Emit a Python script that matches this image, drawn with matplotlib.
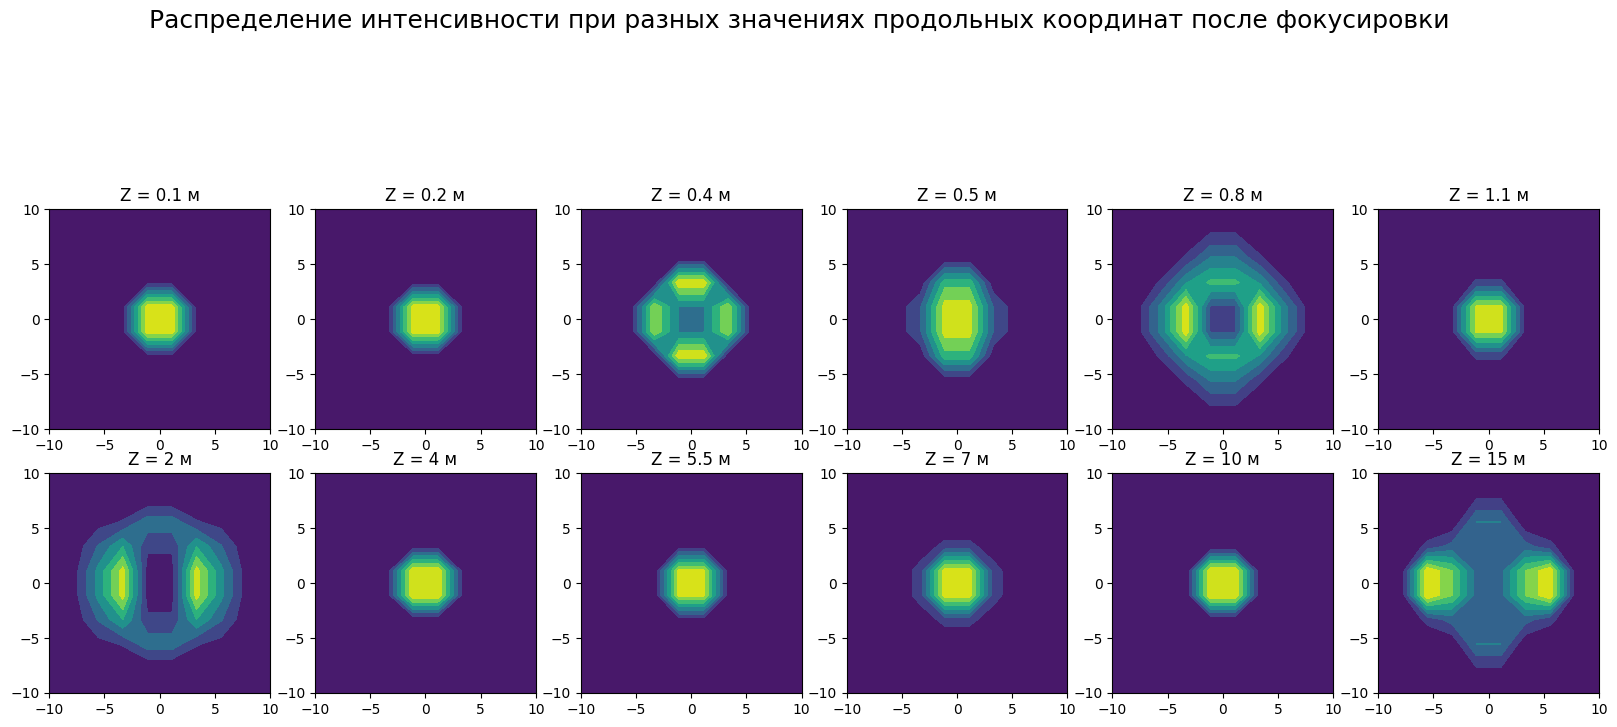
import numpy as np
import matplotlib
matplotlib.use('Agg')
import matplotlib.pyplot as plt

# rows go from y=-10 up to y=10, values are in units of one contour band
z_labels = ['0.1', '0.2', '0.4', '0.5', '0.8', '1.1', '2', '4', '5.5', '7', '10', '15']
n_bands = [8, 8, 7, 7, 8, 7, 7, 7, 8, 8, 7, 8]

i_01 = [[0] * 10, [0] * 10, [0] * 10,
        [0, 0, 0, 0, 0.6, 0.6, 0, 0, 0, 0],
        [0, 0, 0, 0.6, 7.6, 7.6, 0.6, 0, 0, 0],
        [0, 0, 0, 0.6, 7.6, 7.6, 0.6, 0, 0, 0],
        [0, 0, 0, 0, 0.6, 0.6, 0, 0, 0, 0],
        [0] * 10, [0] * 10, [0] * 10]
i_02 = [[0] * 10, [0] * 10, [0] * 10,
        [0, 0, 0, 0, 0.45, 0.45, 0, 0, 0, 0],
        [0, 0, 0, 0.75, 7.6, 7.6, 0.75, 0, 0, 0],
        [0, 0, 0, 0.75, 7.6, 7.6, 0.75, 0, 0, 0],
        [0, 0, 0, 0, 0.55, 0.55, 0, 0, 0, 0],
        [0] * 10, [0] * 10, [0] * 10]
i_04 = [[0] * 10, [0] * 10,
        [0, 0, 0, 0, 0.16, 0.16, 0, 0, 0, 0],
        [0, 0, 0, 0.25, 6.85, 6.85, 0.25, 0, 0, 0],
        [0, 0, 0.15, 5.9, 2.9, 2.9, 5.9, 0.15, 0, 0],
        [0, 0, 0.15, 5.9, 2.9, 2.9, 5.9, 0.15, 0, 0],
        [0, 0, 0, 0.25, 6.85, 6.85, 0.25, 0, 0, 0],
        [0, 0, 0, 0, 0.16, 0.16, 0, 0, 0, 0],
        [0] * 10, [0] * 10]
i_05 = [[0] * 10, [0] * 10,
        [0, 0, 0, 0, 0.3, 0.3, 0, 0, 0, 0],
        [0, 0, 0, 0.25, 4.6, 4.6, 0.25, 0, 0, 0],
        [0, 0, 0.3, 1.9, 6.5, 6.5, 1.9, 0.3, 0, 0],
        [0, 0, 0.3, 1.9, 6.5, 6.5, 1.9, 0.3, 0, 0],
        [0, 0, 0, 0.25, 4.6, 4.6, 0.25, 0, 0, 0],
        [0, 0, 0, 0, 0.3, 0.3, 0, 0, 0, 0],
        [0] * 10, [0] * 10]
i_08 = [[0] * 10,
        [0, 0, 0, 0, 1.05, 1.05, 0, 0, 0, 0],
        [0, 0, 0, 1.2, 3.1, 3.1, 1.2, 0, 0, 0],
        [0, 0, 1.2, 3.9, 5.25, 5.25, 3.9, 1.2, 0, 0],
        [0, 0.53, 3.4, 7.6, 1.85, 1.85, 7.6, 3.4, 0.53, 0],
        [0, 0.53, 3.4, 7.6, 1.85, 1.85, 7.6, 3.4, 0.53, 0],
        [0, 0, 1.2, 3.9, 5.25, 5.25, 3.9, 1.2, 0, 0],
        [0, 0, 0, 1.2, 3.1, 3.1, 1.2, 0, 0, 0],
        [0, 0, 0, 0, 1.05, 1.05, 0, 0, 0, 0],
        [0] * 10]
i_11 = [[0] * 10, [0] * 10, [0] * 10,
        [0, 0, 0, 0, 1.15, 1.15, 0, 0, 0, 0],
        [0, 0, 0, 0.67, 6.3, 6.3, 0.67, 0, 0, 0],
        [0, 0, 0, 0.67, 6.3, 6.3, 0.67, 0, 0, 0],
        [0, 0, 0, 0, 1.15, 1.15, 0, 0, 0, 0],
        [0] * 10, [0] * 10, [0] * 10]
i_2 = [[0] * 10, [0] * 10,
       [0, 0, 0.6, 1.1, 2.6, 2.6, 1.1, 0.6, 0, 0],
       [0, 0.3, 2.1, 4.0, 1.2, 1.2, 4.0, 2.1, 0.3, 0],
       [0, 0.55, 3.3, 6.4, 0.55, 0.55, 6.4, 3.3, 0.55, 0],
       [0, 0.55, 3.3, 6.4, 0.55, 0.55, 6.4, 3.3, 0.55, 0],
       [0, 0.3, 2.1, 4.0, 1.2, 1.2, 4.0, 2.1, 0.3, 0],
       [0, 0, 0.6, 1.1, 2.6, 2.6, 1.1, 0.6, 0, 0],
       [0] * 10, [0] * 10]
i_4 = [[0] * 10, [0] * 10, [0] * 10,
       [0, 0, 0, 0, 0.1, 0.1, 0, 0, 0, 0],
       [0, 0, 0, 0.7, 6.98, 6.98, 0.7, 0, 0, 0],
       [0, 0, 0, 0.7, 6.98, 6.98, 0.7, 0, 0, 0],
       [0, 0, 0, 0, 0.45, 0.45, 0, 0, 0, 0],
       [0] * 10, [0] * 10, [0] * 10]
i_55 = [[0] * 10, [0] * 10, [0] * 10,
        [0, 0, 0, 0, 0.4, 0.4, 0, 0, 0, 0],
        [0, 0, 0, 0.1, 7.3, 7.3, 0.55, 0, 0, 0],
        [0, 0, 0, 0.1, 7.3, 7.3, 0.55, 0, 0, 0],
        [0, 0, 0, 0, 0.5, 0.5, 0, 0, 0, 0],
        [0] * 10, [0] * 10, [0] * 10]
i_7 = [[0] * 10, [0] * 10, [0] * 10,
       [0, 0, 0, 0.3, 1.35, 1.35, 0.3, 0, 0, 0],
       [0, 0, 0.1, 1.45, 7.55, 7.55, 1.45, 0.1, 0, 0],
       [0, 0, 0.1, 1.45, 7.55, 7.55, 1.45, 0.1, 0, 0],
       [0, 0, 0, 0.3, 1.35, 1.35, 0.3, 0, 0, 0],
       [0] * 10, [0] * 10, [0] * 10]
i_10 = [[0] * 10, [0] * 10, [0] * 10,
        [0, 0, 0, 0, 0.05, 0.05, 0, 0, 0, 0],
        [0, 0, 0, 0.1, 6.98, 6.98, 0.3, 0, 0, 0],
        [0, 0, 0, 0.1, 6.98, 6.98, 0.3, 0, 0, 0],
        [0, 0, 0, 0, 0.15, 0.15, 0, 0, 0, 0],
        [0] * 10, [0] * 10, [0] * 10]
i_15 = [[0] * 10,
        [0, 0, 0, 0, 0.9, 0.9, 0, 0, 0, 0],
        [0, 0, 0, 0.1, 3.01, 3.01, 0.1, 0, 0, 0],
        [0, 0, 1.3, 2.4, 2.7, 2.7, 2.4, 1.3, 0, 0],
        [0, 0.64, 7.9, 6.05, 2.6, 2.6, 6.05, 7.9, 0.64, 0],
        [0, 0.64, 7.9, 6.05, 2.6, 2.6, 6.05, 7.9, 0.64, 0],
        [0, 0, 1.3, 2.4, 2.7, 2.7, 2.4, 1.3, 0, 0],
        [0, 0, 0, 0.1, 3.01, 3.01, 0.1, 0, 0, 0],
        [0, 0, 0, 0, 0.9, 0.9, 0, 0, 0, 0],
        [0] * 10]

fields = [i_01, i_02, i_04, i_05, i_08, i_11, i_2, i_4, i_55, i_7, i_10, i_15]

x = np.linspace(-10, 10, 10)
X, Y = np.meshgrid(x, x)

fig, axs = plt.subplots(2, 6, figsize=(16.17, 7.27), dpi=100)
fig.subplots_adjust(left=49.3 / 1617, right=1599 / 1617, top=1 - 209.3 / 727, bottom=1 - 693 / 727,
                    wspace=0.204, hspace=0.2)

for ax, z, n, field in zip(axs.flat, z_labels, n_bands, fields):
    ax.contourf(X, Y, np.array(field, dtype=float), levels=np.arange(n + 1))
    ax.set_title('Z = ' + z + ' м')
    ax.set_xticks([-10, -5, 0, 5, 10])
    ax.set_yticks([-10, -5, 0, 5, 10])

fig.suptitle('Распределение интенсивности при разных значениях продольных координат после фокусировки',
             fontsize=18, x=799 / 1617, y=1 - 21 / 727, va='center')

fig.savefig('out.png', dpi=100)
